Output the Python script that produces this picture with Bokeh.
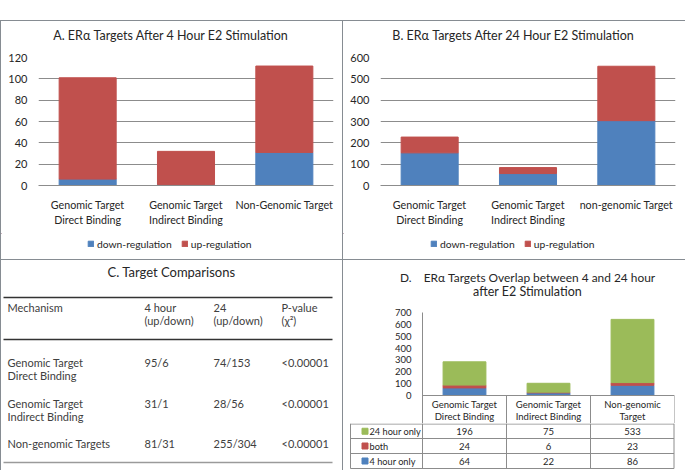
from bokeh.plotting import figure
from bokeh.models import (ColumnDataSource, FactorRange, Range1d, FixedTicker,
                          Legend, LegendItem, GridBox, Spacer, Span)
from bokeh.layouts import column
from bokeh.core.properties import value
from bokeh.transform import dodge
from bokeh.embed import file_html
from bokeh.resources import INLINE

FONT = "Lato"
BLUE, RED, GREEN = "#4F81BD", "#C0504D", "#9BBB59"
GRID = "#8c8c8c"
TXT = "#262626"
BORDER = "#868c92"
WHITE = {"background-color": "white"}

# ---------------- data ----------------
A_TITLE = "A. ERα Targets After 4 Hour E2 Stimulation"
A_CATS = ["Genomic Target\nDirect Binding", "Genomic Target\nIndirect Binding", "Non-Genomic Target"]
A_DOWN = [6, 1, 31]
A_UP = [95, 31, 81]
A_YTICKS = [0, 20, 40, 60, 80, 100, 120]

B_TITLE = "B. ERα Targets After 24 Hour E2 Stimulation"
B_CATS = ["Genomic Target\nDirect Binding", "Genomic Target\nIndirect Binding", "non-genomic Target"]
B_DOWN = [153, 56, 304]
B_UP = [74, 28, 255]
B_YTICKS = [0, 100, 200, 300, 400, 500, 600]

SERIES_AB = ["down-regulation", "up-regulation"]

C_TITLE = "C. Target Comparisons"
C_HEAD = ["Mechanism", "4 hour\n(up/down)", "24\n(up/down)", "P-value\n(χ²)"]
C_MECH = ["Genomic Target\nDirect Binding", "Genomic Target\nIndirect Binding", "Non-genomic Targets"]
C_4H = ["95/6", "31/1", "81/31"]
C_24H = ["74/153", "28/56", "255/304"]
C_PVAL = ["<0.00001", "<0.00001", "<0.00001"]

D_TITLE = ["D.\u00a0\u00a0\u00a0 ERα Targets Overlap between 4 and 24 hour", "after E2 Stimulation"]
D_CATS = ["Genomic Target\nDirect Binding", "Genomic Target\nIndirect Binding", "Non-genomic\nTarget"]
D_SERIES = ["4 hour only", "both", "24 hour only"]
D_4H = [64, 22, 86]
D_BOTH = [24, 6, 23]
D_24H = [196, 75, 533]
D_YTICKS = [0, 100, 200, 300, 400, 500, 600, 700]


def pix_fig(w, h):
    p = figure(width=w, height=h, x_range=Range1d(0, w), y_range=Range1d(h, 0),
               output_backend="svg", toolbar_location=None, min_border=0,
               min_border_left=0, min_border_right=0, min_border_top=0, min_border_bottom=0,
               x_axis_type=None, y_axis_type=None, outline_line_color=None)
    p.grid.visible = False
    return p


def style_yaxis(ya, ticks, size, line_color):
    ya.ticker = FixedTicker(ticks=ticks)
    ya.axis_line_color = line_color
    ya.major_tick_line_color = None
    ya.minor_tick_line_color = None
    ya.major_tick_out = 0
    ya.major_tick_in = 0
    ya.major_label_standoff = 11
    ya.major_label_text_font = FONT
    ya.major_label_text_font_size = size
    ya.major_label_text_color = TXT


def bar_panel(title, cats, down, up, yticks, width, left, right, title_x, legend_x):
    head = pix_fig(width, 28)
    head.text(x=[title_x], y=[14], text=[title], text_font=value(FONT), text_font_size="12.5px",
              text_align="center", text_baseline="middle", text_color=TXT)
    src = ColumnDataSource(dict(cat=cats, down=down, up=up))
    p = figure(width=width, height=184, x_range=FactorRange(*cats),
               y_range=Range1d(0, yticks[-1]), output_backend="svg",
               toolbar_location=None, min_border_left=left, min_border_right=right,
               min_border_top=8, min_border_bottom=48, outline_line_color=None)
    p.vbar_stack(["down", "up"], x="cat", width=0.58, color=[BLUE, RED], source=src)
    p.xgrid.grid_line_color = None
    p.ygrid.grid_line_color = GRID
    p.ygrid.ticker = FixedTicker(ticks=yticks)
    style_yaxis(p.yaxis[0], yticks, "11px", None)
    xa = p.xaxis[0]
    xa.axis_line_color = GRID
    xa.major_tick_line_color = None
    xa.major_tick_out = 0
    xa.major_tick_in = 0
    xa.major_label_standoff = 12
    xa.major_label_text_font = FONT
    xa.major_label_text_font_size = "10.7px"
    xa.major_label_text_color = TXT
    xa.major_label_text_line_height = 1.2
    # legend strip: swatches come from off-screen proxy glyphs in the series colours
    lg = pix_fig(width, 26)
    r0 = lg.vbar(x=[-50], bottom=[-50], top=[-40], width=1, color=BLUE)
    r1 = lg.vbar(x=[-50], bottom=[-50], top=[-40], width=1, color=RED)
    leg = Legend(items=[LegendItem(label=SERIES_AB[0], renderers=[r0]),
                        LegendItem(label=SERIES_AB[1], renderers=[r1])],
                 location=(legend_x, 9.5), orientation="horizontal",
                 border_line_color=None, background_fill_alpha=0, padding=0, margin=0,
                 spacing=9, glyph_width=7, glyph_height=7, label_height=12,
                 label_standoff=3, label_text_font=FONT, label_text_font_size="10.3px",
                 label_text_color=TXT)
    lg.add_layout(leg)
    return column(column(head), column(p), column(lg), spacing=0, styles=WHITE)


pA = bar_panel(A_TITLE, A_CATS, A_DOWN, A_UP, A_YTICKS, 341, 37, 9, 169.5, 86)
pB = bar_panel(B_TITLE, B_CATS, B_DOWN, B_UP, B_YTICKS, 342, 37, 10, 170, 87)

# ---------------- panel C (table) ----------------
CW, CH = 341, 210
pC = pix_fig(CW, CH)
C_COLX = [6, 143, 212, 280]
C_HEAD_Y = 47
C_ROW_Y = [102, 143, 183]
C_LINE = 13
pC.text(x=[170], y=[11], text=[C_TITLE], text_font=value(FONT), text_font_size="13px",
        text_align="center", text_baseline="middle", text_color=TXT)
xs, ys, ts = [], [], []
for j, h in enumerate(C_HEAD):
    for k, line in enumerate(h.split("\n")):
        xs.append(C_COLX[j]); ys.append(C_HEAD_Y + k * C_LINE); ts.append(line)
for i in range(len(C_MECH)):
    cells = [C_MECH[i], C_4H[i], C_24H[i], C_PVAL[i]]
    for j, c in enumerate(cells):
        for k, line in enumerate(c.split("\n")):
            xs.append(C_COLX[j]); ys.append(C_ROW_Y[i] + k * C_LINE); ts.append(line)
pC.text(x=xs, y=ys, text=ts, text_font=value(FONT), text_font_size="11px",
        text_align="left", text_baseline="middle", text_color="#404040")
pC.segment(x0=[2, 2], y0=[37, 79], x1=[331, 331], y1=[37, 79], line_color="#333333", line_width=1.3)
pC.segment(x0=[2], y0=[202], x1=[331], y1=[202], line_color="#9a9a9a", line_width=1.3)

# ---------------- panel D (chart + data table) ----------------
DW = 342
D_LEFT, D_RIGHT = 79, 11
D_HEAD_H, D_TOP_H, D_BOT_H = 44, 119, 47
D_PLOT_PX = 83          # pixel height of the 0..700 value span
D_HDR_PX = 28           # pixel height of the category header row below zero
upx = D_YTICKS[-1] / D_PLOT_PX   # data units per pixel

headD = pix_fig(DW, D_HEAD_H)
headD.text(x=[184], y=[17], text=[D_TITLE[0]], text_font=value(FONT),
           text_font_size="11.9px", text_align="center", text_baseline="middle", text_color=TXT)
headD.text(x=[184], y=[31], text=[D_TITLE[1]], text_font=value(FONT),
           text_font_size="12.5px", text_align="center", text_baseline="middle", text_color=TXT)

srcD = ColumnDataSource(dict(cat=D_CATS, h4=D_4H, both=D_BOTH, h24=D_24H))
pD = figure(width=DW, height=D_TOP_H, x_range=FactorRange(*D_CATS),
            y_range=Range1d(-D_HDR_PX * upx, D_YTICKS[-1]), output_backend="svg",
            toolbar_location=None, min_border_left=D_LEFT, min_border_right=D_RIGHT,
            min_border_top=8, min_border_bottom=0, x_axis_location=None,
            outline_line_color=None)
pD.vbar_stack(["h4", "both", "h24"], x="cat", width=0.51, color=[BLUE, RED, GREEN], source=srcD)
pD.grid.visible = False
style_yaxis(pD.yaxis[0], D_YTICKS, "9.5px", GRID)
pD.add_layout(Span(location=0, dimension="width", line_color=GRID, line_width=1))
pD.segment(x0=dodge("cat", 0.5, range=pD.x_range), y0=0,
           x1=dodge("cat", 0.5, range=pD.x_range), y1=-D_HDR_PX * upx,
           source=srcD, line_color=GRID, line_width=1)
hsrc = dict(x=[], y=[], t=[])
for c in D_CATS:
    for k, line in enumerate(c.split("\n")):
        hsrc["x"].append(c); hsrc["y"].append(-(9 + 12 * k) * upx); hsrc["t"].append(line)
pD.text(x="x", y="y", text="t", source=ColumnDataSource(hsrc), text_font=value(FONT),
        text_font_size="9.5px", text_align="center", text_baseline="middle", text_color=TXT)

pT = pix_fig(DW, D_BOT_H)
colw = (DW - D_RIGHT - D_LEFT) / len(D_CATS)
edges = [D_LEFT + i * colw for i in range(len(D_CATS) + 1)]
centers = [D_LEFT + (i + 0.5) * colw for i in range(len(D_CATS))]
T_LEFT = 7
T_ROWS = [0.5, 15, 30, 45]
pT.segment(x0=[T_LEFT] * 4, y0=T_ROWS, x1=[edges[-1] - 0.5] * 4, y1=T_ROWS,
           line_color=GRID, line_width=1)
vxs = [T_LEFT] + edges[:-1] + [edges[-1] - 0.5]
pT.segment(x0=vxs, y0=[0] * len(vxs), x1=vxs, y1=[T_ROWS[-1]] * len(vxs),
           line_color=GRID, line_width=1)
row_names = D_SERIES[::-1]
row_vals = [D_24H, D_BOTH, D_4H]
row_cols = [GREEN, RED, BLUE]
row_c = [(T_ROWS[i] + T_ROWS[i + 1]) / 2 for i in range(3)]
pT.rect(x=[21.5] * 3, y=row_c, width=6, height=6, color=row_cols)
pT.text(x=[26] * 3, y=row_c, text=row_names, text_font=value(FONT), text_font_size="9.2px",
        text_align="left", text_baseline="middle", text_color=TXT)
vx, vy, vt = [], [], []
for r in range(3):
    for i in range(len(D_CATS)):
        vx.append(centers[i]); vy.append(row_c[r]); vt.append(str(row_vals[r][i]))
pT.text(x=vx, y=vy, text=vt, text_font=value(FONT), text_font_size="9.5px",
        text_align="center", text_baseline="middle", text_color=TXT)

pDcol = column(column(headD), column(pD), column(pT), spacing=0, styles=WHITE)

grid = GridBox(children=[(pA, 0, 0), (pB, 0, 1), (column(pC, styles=WHITE), 1, 0), (pDcol, 1, 1)],
               spacing=1,
               styles={"background-color": BORDER, "padding-top": "1px", "padding-left": "1px"})
layout = column(Spacer(width=685, height=20), grid, spacing=0)

open("out.html", "w").write(file_html(layout, INLINE))
